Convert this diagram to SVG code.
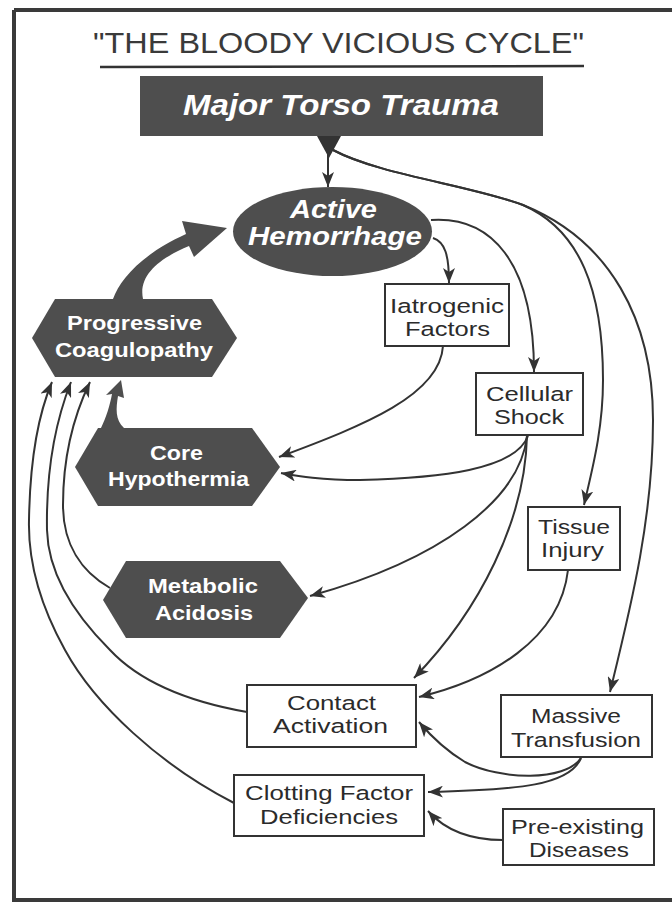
<svg xmlns="http://www.w3.org/2000/svg" width="672" height="904" viewBox="0 0 672 904">
<style>
.frame{stroke:#3a3a3a;stroke-width:4;fill:none}
.dark{fill:#4e4e4e}
.box{fill:#fff;stroke:#333;stroke-width:2}
.t{font-family:"Liberation Sans",Arial,sans-serif;font-size:20.5px;fill:#2b2b2b}
.w{font-family:"Liberation Sans",Arial,sans-serif;font-weight:bold;font-size:20.5px;fill:#fff}
.wi{font-family:"Liberation Sans",Arial,sans-serif;font-weight:bold;font-style:italic;fill:#fff}
.c{fill:none;stroke:#333;stroke-width:2;marker-end:url(#ah)}
.title{font-family:"Liberation Sans",Arial,sans-serif;font-size:29px;fill:#3a3a3a}
</style>
<defs>
<marker id="ah" markerUnits="userSpaceOnUse" markerWidth="16" markerHeight="12" refX="15" refY="6" orient="auto">
<path d="M0,0 L15,6 L0,12 L4,6 Z" fill="#333"/>
</marker>
</defs>
<rect width="672" height="904" fill="#fff"/>
<path class="frame" d="M14,10 H672 M14,10 V900 H672"/>
<g id="title">
<text class="title" x="93" y="53" textLength="491" lengthAdjust="spacingAndGlyphs">"THE BLOODY VICIOUS CYCLE"</text>
<line x1="100" y1="67" x2="584" y2="66" stroke="#333" stroke-width="2.5"/>
</g>
<g id="connectors">
<polygon points="317,136 341,136 329,158" fill="#333"/>
<path class="c" d="M328,150 V187"/>
<path class="c" d="M333,150 C380,175 470,185 523,205 C580,230 603,290 603,380 C603,430 592,470 584,505"/>
<path class="c" d="M333,150 C380,175 470,185 523,205 C610,240 653,320 653,420 C653,520 630,610 610,692"/>
<path class="c" d="M431,220 C490,216 534,260 534,372"/>
<path class="c" d="M433,238 C445,242 449,255 449,283"/>
<path class="c" d="M443,346 C440,395 365,425 279,457"/>
<path class="c" d="M528,436 C515,470 440,478 360,480 C320,480 298,476 281,473"/>
<path class="c" d="M527,436 C520,500 440,560 310,596"/>
<path class="c" d="M527,436 C525,520 480,610 414,678"/>
<path class="c" d="M568,570 C560,640 490,680 419,697"/>
<path class="c" d="M581,758 C565,782 500,780 465,762 C445,750 430,735 419,722"/>
<path class="c" d="M581,758 C570,785 520,790 428,792"/>
<path class="c" d="M503,840 C470,840 445,830 428,811"/>
<path class="c" d="M234,803 C160,765 95,705 65,650 C40,605 28,560 29,520 C30,460 38,415 52,382"/>
<path class="c" d="M247,712 C190,702 140,682 110,650 C70,610 48,570 47,530 C46,470 56,420 71,382"/>
<path class="c" d="M110,588 C82,572 63,545 63,505 C63,455 74,415 90,382"/>
<path d="M113,299 C120,280 140,255 186,234 L182,221 L227,228 L194,257 L189,246 C160,258 138,275 143,299 Z" fill="#4e4e4e"/>
<path d="M101,428 C106,418 110,405 112,394 L106,395 L121,380 L124,398 L118,396 C116,408 115,420 124,428 Z" fill="#4e4e4e"/>
</g>
<g id="major-torso-trauma">
<rect class="dark" x="140" y="76" width="403" height="60"/>
<text class="wi" x="183" y="115" font-size="30" textLength="316" lengthAdjust="spacingAndGlyphs">Major Torso Trauma</text>
</g>
<g id="active-hemorrhage">
<ellipse class="dark" cx="332.5" cy="231.5" rx="99.5" ry="44.5"/>
<text class="wi" x="290" y="218" font-size="25" textLength="87" lengthAdjust="spacingAndGlyphs">Active</text>
<text class="wi" x="248" y="245" font-size="25" textLength="174" lengthAdjust="spacingAndGlyphs">Hemorrhage</text>
</g>
<g id="progressive-coagulopathy">
<polygon class="dark" points="32,338 55,299 212,299 237,338 212,377 55,377"/>
<text class="w" x="67" y="330" textLength="135" lengthAdjust="spacingAndGlyphs">Progressive</text>
<text class="w" x="55" y="357" textLength="158" lengthAdjust="spacingAndGlyphs">Coagulopathy</text>
</g>
<g id="core-hypothermia">
<polygon class="dark" points="75,467 98,428 252,428 280,467 252,506 98,506"/>
<text class="w" x="150" y="460" textLength="53" lengthAdjust="spacingAndGlyphs">Core</text>
<text class="w" x="108" y="486" textLength="141" lengthAdjust="spacingAndGlyphs">Hypothermia</text>
</g>
<g id="metabolic-acidosis">
<polygon class="dark" points="103,600 126,561 280,561 308,598 280,638 126,638"/>
<text class="w" x="148" y="593" textLength="110" lengthAdjust="spacingAndGlyphs">Metabolic</text>
<text class="w" x="155" y="620" textLength="98" lengthAdjust="spacingAndGlyphs">Acidosis</text>
</g>
<g id="iatrogenic-factors">
<rect class="box" x="385" y="284" width="124" height="62"/>
<text class="t" x="390" y="313" textLength="114" lengthAdjust="spacingAndGlyphs">Iatrogenic</text>
<text class="t" x="405" y="336" textLength="85" lengthAdjust="spacingAndGlyphs">Factors</text>
</g>
<g id="cellular-shock">
<rect class="box" x="476" y="373" width="107" height="62"/>
<text class="t" x="486" y="401" textLength="87" lengthAdjust="spacingAndGlyphs">Cellular</text>
<text class="t" x="494" y="424" textLength="70" lengthAdjust="spacingAndGlyphs">Shock</text>
</g>
<g id="tissue-injury">
<rect class="box" x="528" y="507" width="92" height="63"/>
<text class="t" x="538" y="534" textLength="72" lengthAdjust="spacingAndGlyphs">Tissue</text>
<text class="t" x="541" y="557" textLength="63" lengthAdjust="spacingAndGlyphs">Injury</text>
</g>
<g id="contact-activation">
<rect class="box" x="247" y="685" width="169" height="62"/>
<text class="t" x="287" y="710" textLength="89" lengthAdjust="spacingAndGlyphs">Contact</text>
<text class="t" x="273" y="733" textLength="115" lengthAdjust="spacingAndGlyphs">Activation</text>
</g>
<g id="massive-transfusion">
<rect class="box" x="501" y="695" width="151" height="62"/>
<text class="t" x="531" y="723" textLength="90" lengthAdjust="spacingAndGlyphs">Massive</text>
<text class="t" x="511" y="747" textLength="130" lengthAdjust="spacingAndGlyphs">Transfusion</text>
</g>
<g id="clotting-factor-deficiencies">
<rect class="box" x="234" y="775" width="190" height="61"/>
<text class="t" x="245" y="800" textLength="168" lengthAdjust="spacingAndGlyphs">Clotting Factor</text>
<text class="t" x="260" y="824" textLength="138" lengthAdjust="spacingAndGlyphs">Deficiencies</text>
</g>
<g id="pre-existing-diseases">
<rect class="box" x="503" y="809" width="151" height="56"/>
<text class="t" x="511" y="834" textLength="133" lengthAdjust="spacingAndGlyphs">Pre-existing</text>
<text class="t" x="529" y="857" textLength="100" lengthAdjust="spacingAndGlyphs">Diseases</text>
</g>
</svg>
